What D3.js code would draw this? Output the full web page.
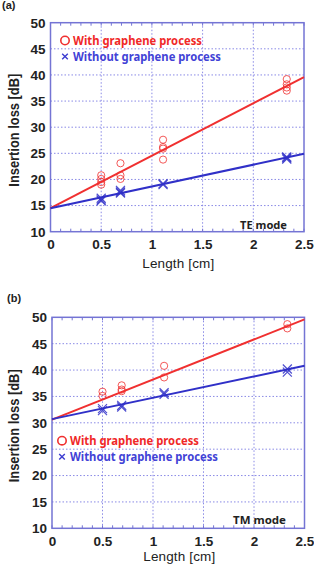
<!DOCTYPE html>
<html><head><meta charset="utf-8">
<script src="https://cdn.jsdelivr.net/npm/d3@7"></script>
<style>body{margin:0;background:#fff}svg{display:block}</style>
</head><body>
<svg id="c" width="314" height="567"></svg>
<script>
// ---- data ----
const xTicks = [0, 0.5, 1, 1.5, 2, 2.5];
const yTicks = [10, 15, 20, 25, 30, 35, 40, 45, 50];
const seriesNames = ["With graphene process", "Without graphene process"];

// Panel (a) TE mode
const teWithX = [0.5, 0.5, 0.5, 0.5, 0.69, 0.69, 0.69, 1.11, 1.11, 1.11, 1.11, 2.33, 2.33, 2.33, 2.33];
const teWithY = [20.8, 20.1, 19.5, 19.0, 23.1, 20.8, 20.1, 27.6, 26.2, 25.9, 23.8, 39.2, 38.2, 37.6, 37.0];
const teWithoutX = [0.5, 0.5, 0.5, 0.69, 0.69, 0.69, 1.11, 1.11, 2.33, 2.33, 2.33];
const teWithoutY = [16.4, 16.1, 15.9, 17.9, 17.6, 17.4, 19.2, 19.0, 24.3, 24.1, 23.9];
const teFitWith = [[0, 14.5], [2.5, 39.6]];
const teFitWithout = [[0, 14.5], [2.5, 24.9]];

// Panel (b) TM mode
const tmWithX = [0.5, 0.5, 0.69, 0.69, 0.69, 1.11, 1.11, 2.33, 2.33];
const tmWithY = [35.9, 35.1, 37.1, 36.3, 36.0, 40.8, 38.6, 48.7, 47.9];
const tmWithoutX = [0.5, 0.5, 0.69, 0.69, 1.11, 1.11, 2.33, 2.33];
const tmWithoutY = [32.7, 32.3, 33.3, 33.0, 35.7, 35.4, 40.2, 39.6];
const tmFitWith = [[0, 30.6], [2.5, 49.6]];
const tmFitWithout = [[0, 30.7], [2.5, 40.8]];

const RED = "#f03030", BLUE = "#3030c8", FRAME = "#7474d4", GRID = "#8a8ae6";

const svg = d3.select("#c");

function panel(opt) {
  const g = svg.append("g");
  const x = d3.scaleLinear().domain([0, 2.5]).range([opt.left, opt.right]);
  const y = d3.scaleLinear().domain([10, 50]).range([opt.bottom, opt.top]);

  // grid
  g.append("g").selectAll("line").data(xTicks.slice(1, -1)).join("line")
    .attr("x1", d => x(d)).attr("x2", d => x(d)).attr("y1", opt.top).attr("y2", opt.bottom)
    .attr("stroke", GRID).attr("stroke-width", 1).attr("stroke-dasharray", "1.5,2");
  g.append("g").selectAll("line").data(yTicks.slice(1, -1)).join("line")
    .attr("y1", d => y(d)).attr("y2", d => y(d)).attr("x1", opt.left).attr("x2", opt.right)
    .attr("stroke", GRID).attr("stroke-width", 1).attr("stroke-dasharray", "1.5,2");

  // minor ticks on x (top and bottom)
  const minor = d3.range(0, 26).map(i => i / 10);
  g.append("g").selectAll("line").data(minor).join("line")
    .attr("x1", d => x(d)).attr("x2", d => x(d)).attr("y1", opt.bottom).attr("y2", opt.bottom - 3)
    .attr("stroke", FRAME).attr("stroke-width", 1);
  g.append("g").selectAll("line").data(minor).join("line")
    .attr("x1", d => x(d)).attr("x2", d => x(d)).attr("y1", opt.top).attr("y2", opt.top + 3)
    .attr("stroke", FRAME).attr("stroke-width", 1);

  // frame
  g.append("rect").attr("x", opt.left).attr("y", opt.top)
    .attr("width", opt.right - opt.left).attr("height", opt.bottom - opt.top)
    .attr("fill", "none").attr("stroke", FRAME).attr("stroke-width", 1.5);

  // axes labels via d3 axes
  const ax = g.append("g").attr("transform", `translate(0,${opt.bottom})`)
    .call(d3.axisBottom(x).tickValues(xTicks).tickFormat(d3.format("")).tickSize(0).tickPadding(8));
  ax.select(".domain").remove();
  ax.selectAll("text").attr("font-family", "Liberation Sans, Arial, sans-serif")
    .attr("font-weight", "bold").attr("font-size", 13.5).attr("fill", "#222");
  const ay = g.append("g").attr("transform", `translate(${opt.left},0)`)
    .call(d3.axisLeft(y).tickValues(yTicks).tickFormat(d3.format("")).tickSize(0).tickPadding(5));
  ay.select(".domain").remove();
  ay.selectAll("text").attr("font-family", "Liberation Sans, Arial, sans-serif")
    .attr("font-weight", "bold").attr("font-size", 13.5).attr("fill", "#222");

  // axis titles
  g.append("text").attr("x", (opt.left + opt.right) / 2 + 1).attr("y", opt.xlabY)
    .attr("text-anchor", "middle").attr("font-family", "Liberation Sans, Arial, sans-serif")
    .attr("font-size", 13.5).attr("fill", "#222").attr("textLength", 72)
    .text("Length [cm]");
  g.append("text").attr("transform", `translate(${opt.ylabX},${(opt.top + opt.bottom) / 2 + 3}) rotate(-90)`)
    .attr("text-anchor", "middle").attr("font-family", "Liberation Sans, Arial, sans-serif")
    .attr("font-weight", "bold").attr("font-size", 14).attr("fill", "#222").attr("textLength", 113)
    .attr("lengthAdjust", "spacingAndGlyphs")
    .text("Insertion loss [dB]");

  // panel label
  g.append("text").attr("x", opt.tagX).attr("y", opt.tagY)
    .attr("font-family", "Liberation Sans, Arial, sans-serif").attr("font-weight", "bold")
    .attr("font-size", 11).attr("fill", "#222").text(opt.tag);

  // fit lines
  const line = d3.line().x(d => x(d[0])).y(d => y(d[1]));
  g.append("path").attr("d", line(opt.fitWith)).attr("stroke", RED).attr("stroke-width", 2).attr("fill", "none");
  g.append("path").attr("d", line(opt.fitWithout)).attr("stroke", BLUE).attr("stroke-width", 2).attr("fill", "none");

  // circles
  const cw = opt.withX.map((v, i) => [v, opt.withY[i]]);
  g.append("g").selectAll("circle").data(cw).join("circle")
    .attr("cx", d => x(d[0])).attr("cy", d => y(d[1])).attr("r", 3.6)
    .attr("fill", "none").attr("stroke", RED).attr("stroke-width", 1).attr("opacity", 0.8);
  // crosses
  const cx = opt.withoutX.map((v, i) => [v, opt.withoutY[i]]);
  const s = 4.5;
  g.append("g").selectAll("path").data(cx).join("path")
    .attr("d", d => { const px = x(d[0]), py = y(d[1]);
      return `M${px - s},${py - s}L${px + s},${py + s}M${px - s},${py + s}L${px + s},${py - s}`; })
    .attr("stroke", BLUE).attr("stroke-width", 1.2).attr("fill", "none").attr("opacity", 0.85);

  // legend
  const lg = g.append("g");
  lg.append("circle").attr("cx", opt.legX).attr("cy", opt.legY).attr("r", 4.2)
    .attr("fill", "none").attr("stroke", RED).attr("stroke-width", 1.6);
  lg.append("text").attr("x", opt.legX + 8).attr("y", opt.legY + 4.3)
    .attr("font-family", "Noto Sans, sans-serif").attr("font-weight", "bold").attr("font-size", 11.8)
    .attr("fill", "#f02828").attr("textLength", 129).attr("lengthAdjust", "spacingAndGlyphs")
    .text(seriesNames[0]);
  const ly = opt.legY + 16, ls = 2.8;
  lg.append("path").attr("d", `M${opt.legX - ls},${ly - ls}L${opt.legX + ls},${ly + ls}M${opt.legX - ls},${ly + ls}L${opt.legX + ls},${ly - ls}`)
    .attr("stroke", "#3c3cd0").attr("stroke-width", 1.4);
  lg.append("text").attr("x", opt.legX + 8).attr("y", ly + 4.3)
    .attr("font-family", "Noto Sans, sans-serif").attr("font-weight", "bold").attr("font-size", 11.8)
    .attr("fill", "#4242d6").attr("textLength", 148).attr("lengthAdjust", "spacingAndGlyphs")
    .text(seriesNames[1]);

  // mode label
  g.append("text").attr("x", opt.modeX).attr("y", opt.modeY)
    .attr("font-family", "Noto Sans, sans-serif").attr("font-weight", "bold").attr("font-size", 10.5)
    .attr("fill", "#222").attr("textLength", opt.modeW).attr("lengthAdjust", "spacingAndGlyphs")
    .text(opt.mode);
}

panel({
  left: 50.5, right: 304, top: 22.7, bottom: 231.7,
  withX: teWithX, withY: teWithY, withoutX: teWithoutX, withoutY: teWithoutY,
  fitWith: teFitWith, fitWithout: teFitWithout,
  xlabY: 268, ylabX: 19, tag: "(a)", tagX: 2, tagY: 9,
  legX: 65, legY: 40.5, mode: "TE mode", modeX: 240, modeY: 229, modeW: 47
});
panel({
  left: 52, right: 304.5, top: 317.3, bottom: 528.3,
  withX: tmWithX, withY: tmWithY, withoutX: tmWithoutX, withoutY: tmWithoutY,
  fitWith: tmFitWith, fitWithout: tmFitWithout,
  xlabY: 561, ylabX: 19, tag: "(b)", tagX: 7, tagY: 302,
  legX: 62, legY: 440.7, mode: "TM mode", modeX: 233, modeY: 524, modeW: 53
});
</script>
</body></html>
